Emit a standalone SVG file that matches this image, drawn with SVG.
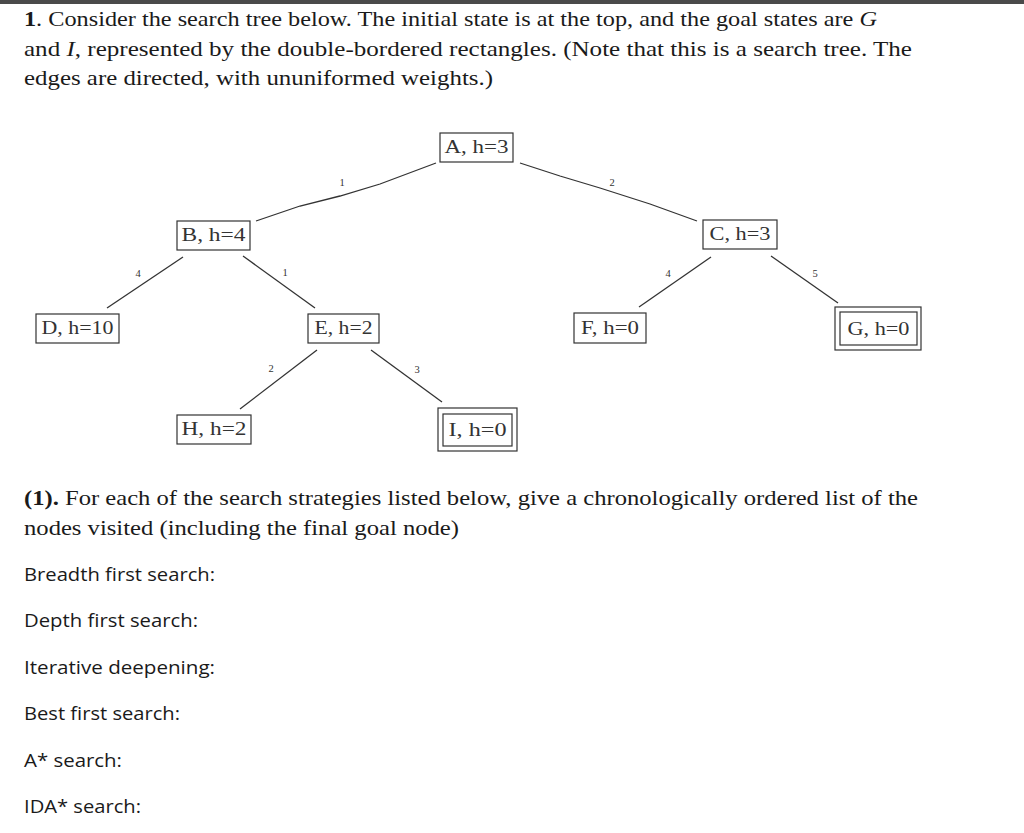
<svg xmlns="http://www.w3.org/2000/svg" width="1024" height="833" viewBox="0 0 1024 833">
<style>
.para{font-family:"Liberation Serif","DejaVu Serif",serif;font-size:21px;fill:#1a1a1a}
.item{font-family:"Open Sans","Liberation Sans",sans-serif;font-size:19px;fill:#1a1a1a}
.node rect{fill:#fff;stroke:#333;stroke-width:1.2}
.node text{font-family:"Liberation Serif","DejaVu Serif",serif;font-size:19px;fill:#333;text-anchor:middle}
.edge{stroke:#333;stroke-width:1.3;fill:none}
.elab{font-family:"Liberation Serif","DejaVu Serif",serif;font-size:10.5px;fill:#333;text-anchor:middle}
</style>
<rect x="0" y="0" width="1024" height="833" fill="#fff"/>
<rect x="0" y="0" width="1024" height="4" fill="#4a4a4a"/>
<g id="intro">
<text class="para" x="24" y="26" textLength="853" lengthAdjust="spacingAndGlyphs"><tspan font-weight="bold">1</tspan>. Consider the search tree below. The initial state is at the top, and the goal states are <tspan font-style="italic">G</tspan></text>
<text class="para" x="24" y="56" textLength="888" lengthAdjust="spacingAndGlyphs">and <tspan font-style="italic">I</tspan>, represented by the double-bordered rectangles. (Note that this is a search tree. The</text>
<text class="para" x="24" y="85" textLength="469" lengthAdjust="spacingAndGlyphs">edges are directed, with ununiformed weights.)</text>
</g>
<g id="connectors">
<path class="edge" d="M256,221 L300,206 L340,196 L380,184 L436,163"/>
<path class="edge" d="M520,163 L560,176 L600,188 L650,204 L697,221"/>
<path class="edge" d="M183,257 L107,308"/>
<path class="edge" d="M243,256 L315,308"/>
<path class="edge" d="M711,257 L639,307"/>
<path class="edge" d="M771,256 L838,303"/>
<path class="edge" d="M317,350 L240,409"/>
<path class="edge" d="M371,350 L442,402"/>
<text class="elab" x="342" y="186">1</text>
<text class="elab" x="612" y="186">2</text>
<text class="elab" x="138" y="277">4</text>
<text class="elab" x="285" y="276">1</text>
<text class="elab" x="668" y="277">4</text>
<text class="elab" x="815" y="277">5</text>
<text class="elab" x="271" y="372">2</text>
<text class="elab" x="417" y="373">3</text>
</g>
<g id="nodeA" class="node"><rect x="440" y="133" width="73" height="29"/><text x="476.5" y="153" textLength="64" lengthAdjust="spacingAndGlyphs">A, h=3</text></g>
<g id="nodeB" class="node"><rect x="177" y="221" width="73" height="29"/><text x="213.5" y="241" textLength="64" lengthAdjust="spacingAndGlyphs">B, h=4</text></g>
<g id="nodeC" class="node"><rect x="703" y="220" width="74" height="29"/><text x="740" y="240" textLength="61" lengthAdjust="spacingAndGlyphs">C, h=3</text></g>
<g id="nodeD" class="node"><rect x="36" y="314" width="83" height="29"/><text x="77.5" y="334" textLength="72" lengthAdjust="spacingAndGlyphs">D, h=10</text></g>
<g id="nodeE" class="node"><rect x="308" y="314" width="71" height="29"/><text x="343.5" y="334" textLength="58" lengthAdjust="spacingAndGlyphs">E, h=2</text></g>
<g id="nodeF" class="node"><rect x="574" y="313" width="72" height="30"/><text x="610" y="334" textLength="58" lengthAdjust="spacingAndGlyphs">F, h=0</text></g>
<g id="nodeG" class="node"><rect x="835" y="307" width="86" height="43"/><rect x="840" y="312" width="77" height="33"/><text x="878.5" y="335" textLength="62" lengthAdjust="spacingAndGlyphs">G, h=0</text></g>
<g id="nodeH" class="node"><rect x="177" y="415" width="74" height="29"/><text x="214" y="435" textLength="65" lengthAdjust="spacingAndGlyphs">H, h=2</text></g>
<g id="nodeI" class="node"><rect x="438" y="408" width="79" height="43"/><rect x="443" y="414" width="69" height="32"/><text x="477.5" y="436" textLength="58" lengthAdjust="spacingAndGlyphs">I, h=0</text></g>
<g id="question">
<text class="para" x="24" y="505" textLength="894" lengthAdjust="spacingAndGlyphs"><tspan font-weight="bold">(1).</tspan> For each of the search strategies listed below, give a chronologically ordered list of the</text>
<text class="para" x="24" y="535" textLength="435" lengthAdjust="spacingAndGlyphs">nodes visited (including the final goal node)</text>
<text class="item" x="24" y="581" textLength="191" lengthAdjust="spacingAndGlyphs">Breadth first search:</text>
<text class="item" x="24" y="627" textLength="174" lengthAdjust="spacingAndGlyphs">Depth first search:</text>
<text class="item" x="24" y="674" textLength="191" lengthAdjust="spacingAndGlyphs">Iterative deepening:</text>
<text class="item" x="24" y="720" textLength="156" lengthAdjust="spacingAndGlyphs">Best first search:</text>
<text class="item" x="24" y="767" textLength="98" lengthAdjust="spacingAndGlyphs">A* search:</text>
<text class="item" x="24" y="813" textLength="117" lengthAdjust="spacingAndGlyphs">IDA* search:</text>
</g>
</svg>
